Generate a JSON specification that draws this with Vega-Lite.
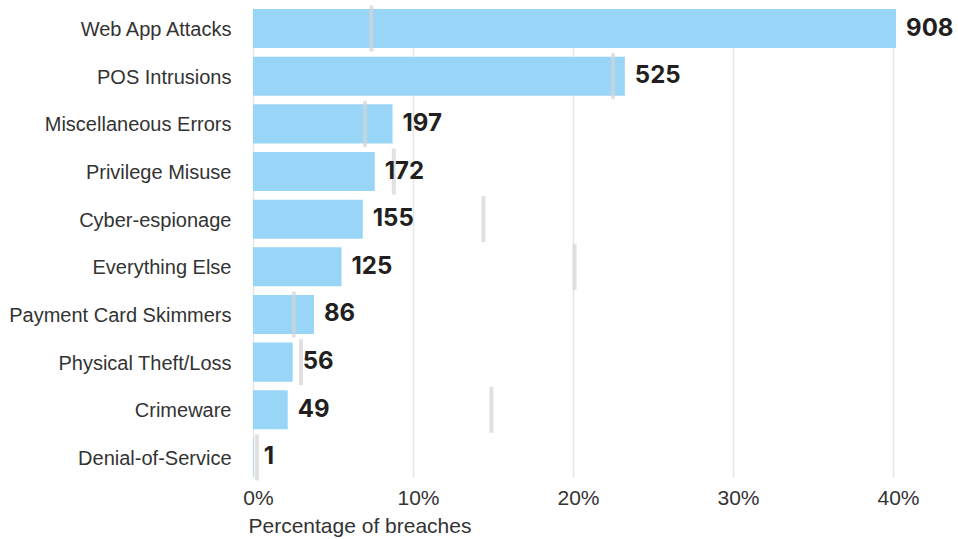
{
  "$schema": "https://vega.github.io/schema/vega-lite/v6.json",
  "width": 704,
  "height": 468,
  "autosize": "none",
  "padding": {"left": 253, "top": 9, "right": 1, "bottom": 62},
  "config": {"view": {"stroke": null}},
  "data": {
    "values": [
      {"category": "Web App Attacks", "count": 908, "pct": 40.19, "prior": 7.4},
      {"category": "POS Intrusions", "count": 525, "pct": 23.24, "prior": 22.5},
      {"category": "Miscellaneous Errors", "count": 197, "pct": 8.72, "prior": 7.0},
      {"category": "Privilege Misuse", "count": 172, "pct": 7.61, "prior": 8.8},
      {"category": "Cyber-espionage", "count": 155, "pct": 6.86, "prior": 14.4},
      {"category": "Everything Else", "count": 125, "pct": 5.53, "prior": 20.1},
      {"category": "Payment Card Skimmers", "count": 86, "pct": 3.81, "prior": 2.55},
      {"category": "Physical Theft/Loss", "count": 56, "pct": 2.48, "prior": 3.0},
      {"category": "Crimeware", "count": 49, "pct": 2.17, "prior": 14.9},
      {"category": "Denial-of-Service", "count": 1, "pct": 0.04, "prior": 0.25}
    ]
  },
  "encoding": {
    "y": {
      "field": "category",
      "type": "nominal",
      "sort": null,
      "scale": {"paddingInner": 0.18, "paddingOuter": 0},
      "axis": {
        "title": null,
        "domain": false,
        "ticks": false,
        "labelPadding": 22,
        "labelOffset": 1.5,
        "labelLimit": 400,
        "labelFont": "Liberation Sans",
        "labelFontSize": 20,
        "labelColor": "#333333"
      }
    }
  },
  "layer": [
    {
      "mark": {"type": "bar", "color": "#98d5f6"},
      "encoding": {
        "x": {
          "field": "pct",
          "type": "quantitative",
          "scale": {"domain": [0, 44], "nice": false},
          "axis": {
            "values": [0, 10, 20, 30, 40],
            "labelExpr": "datum.value + '%'",
            "labelFlush": false,
            "labelOffset": 5,
            "domain": false,
            "ticks": false,
            "grid": true,
            "gridColor": "#e6e6e6",
            "gridWidth": 1.5,
            "labelPadding": 10,
            "labelFont": "Liberation Sans",
            "labelFontSize": 21,
            "labelColor": "#333333",
            "title": "Percentage of breaches",
            "titleFont": "Liberation Sans",
            "titleFontSize": 21,
            "titleFontWeight": "normal",
            "titleColor": "#333333",
            "titleAlign": "left",
            "titleAnchor": "start",
            "titleBaseline": "alphabetic",
            "titleX": -5,
            "titleY": 55
          }
        }
      }
    },
    {
      "mark": {"type": "rule", "color": "#e8e8e8", "strokeWidth": 5},
      "encoding": {"x": {"datum": 0, "type": "quantitative"}}
    },
    {
      "mark": {"type": "tick", "color": "#d4d4d4", "thickness": 4, "size": 46},
      "encoding": {"x": {"field": "prior", "type": "quantitative"}}
    },
    {
      "mark": {"type": "text", "align": "left", "baseline": "middle", "dx": 10, "font": "Inter", "fontSize": 24, "fontWeight": "bold", "color": "#231f20"},
      "encoding": {
        "x": {"field": "pct", "type": "quantitative"},
        "text": {"field": "count", "type": "quantitative"}
      }
    }
  ]
}
